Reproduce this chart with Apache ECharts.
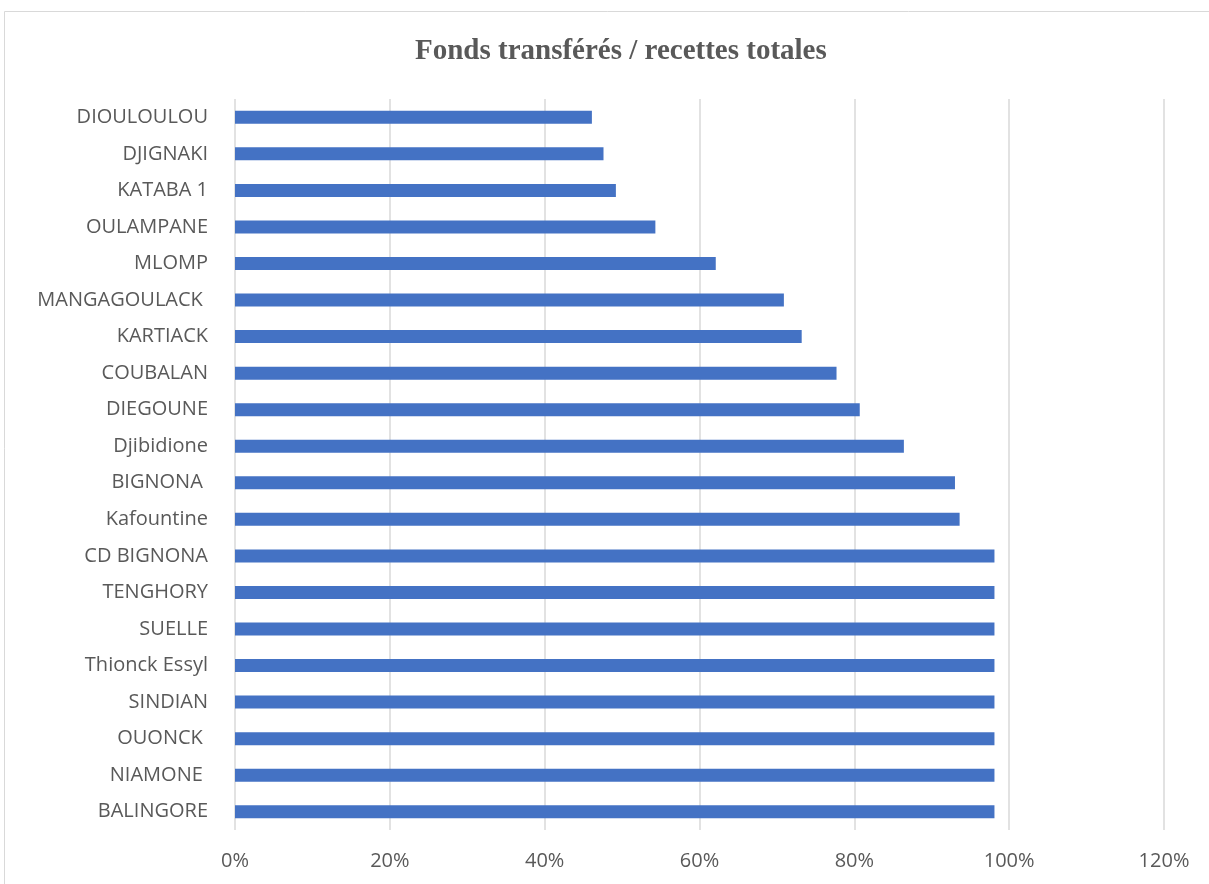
<!DOCTYPE html>
<html>
<head>
<meta charset="utf-8">
<script src="https://cdn.jsdelivr.net/npm/echarts@6/dist/echarts.min.js"></script>
<style>html,body{margin:0;padding:0;background:#fff}#c{width:1209px;height:884px}</style>
</head>
<body>
<div id="c"></div>
<script>
const categories = ["DIOULOULOU","DJIGNAKI","KATABA 1","OULAMPANE","MLOMP","MANGAGOULACK ","KARTIACK","COUBALAN","DIEGOUNE","Djibidione","BIGNONA ","Kafountine","CD BIGNONA","TENGHORY","SUELLE","Thionck Essyl","SINDIAN","OUONCK ","NIAMONE ","BALINGORE"];
const values = [46.1,47.6,49.2,54.3,62.1,70.9,73.2,77.7,80.7,86.4,93.0,93.6,98.1,98.1,98.1,98.1,98.1,98.1,98.1,98.1];
const xTicks = [0,20,40,60,80,100,120];
const title = "Fonds transférés / recettes totales";

const chart = echarts.init(document.getElementById('c'));
chart.setOption({
  animation:false,
  backgroundColor:'#fff',
  graphic:[{type:'rect',shape:{x:4.5,y:11.5,width:1300,height:1000},style:{fill:'none',stroke:'#d9d9d9',lineWidth:1},silent:true,z:-1}],
  title:{text:title,left:410,top:32,textStyle:{fontFamily:'Liberation Serif',fontWeight:'bold',fontSize:29,color:'#595959'}},
  grid:{left:235,right:45,top:99,bottom:54},
  xAxis:{type:'value',min:0,max:120,interval:20,
    axisLine:{show:false},axisTick:{show:false},
    splitLine:{lineStyle:{color:'#d9d9d9',width:1.5}},
    axisLabel:{formatter:v=>v+'%',color:'#595959',fontSize:20,fontFamily:'Open Sans',margin:21}},
  yAxis:{type:'category',data:categories,inverse:true,
    axisLine:{show:false},axisTick:{show:false},
    axisLabel:{color:'#595959',fontSize:20,fontFamily:'Open Sans',margin:27}},
  series:[{type:'bar',data:values,barWidth:13,itemStyle:{color:'#4472C4'}}]
});
</script>
</body>
</html>
